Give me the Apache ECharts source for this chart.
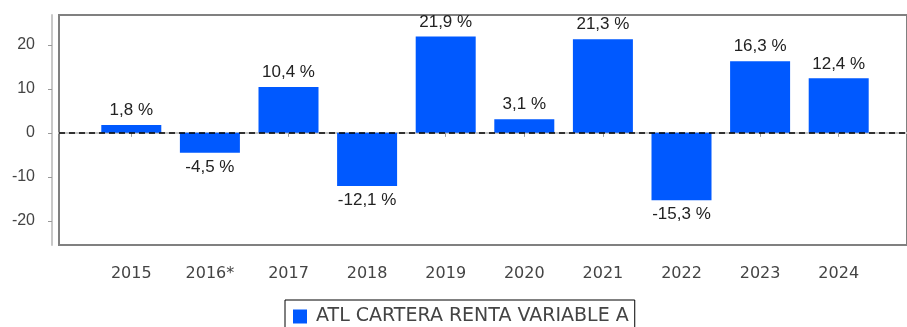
<!DOCTYPE html>
<html>
<head>
<meta charset="utf-8">
<script src="https://cdn.jsdelivr.net/npm/echarts@6/dist/echarts.min.js"></script>
<style>
  html, body { margin: 0; padding: 0; background: #fff; }
  #chart { width: 907px; height: 327px; }
</style>
</head>
<body>
<div id="chart"></div>
<script>
// Annual returns of the fund, per calendar year
const years = ['2015', '2016*', '2017', '2018', '2019', '2020', '2021', '2022', '2023', '2024'];
const returns = [1.8, -4.5, 10.4, -12.1, 21.9, 3.1, 21.3, -15.3, 16.3, 12.4];
const yTicks = [-20, -10, 0, 10, 20];
const seriesName = 'ATL CARTERA RENTA VARIABLE A';

const Y_MIN = -25.5, Y_MAX = 26.8;
const BLUE = '#0059ff';
const fmt = v => v.toFixed(1).replace('.', ',') + ' %';

const barData = returns.map(v => ({
  value: v,
  label: { position: v < 0 ? 'bottom' : 'top' }
}));

const chart = echarts.init(document.getElementById('chart'), null, { renderer: 'canvas' });
chart.setOption({
  animation: false,
  backgroundColor: '#fff',
  textStyle: { fontFamily: 'Liberation Sans' },
  legend: {
    data: [seriesName],
    left: 285,
    top: 300,
    padding: [7, 6, 7, 8],
    itemWidth: 14,
    itemHeight: 14,
    borderColor: '#000',
    borderWidth: 1,
    icon: 'rect',
    textStyle: { fontFamily: 'DejaVu Sans', fontSize: 19, color: '#444', padding: [0, 0, 0, 4] }
  },
  grid: [
    { left: 92, right: 29, top: 15, bottom: 82 },
    { left: 59, right: -3, top: 15, bottom: 82, show: true, borderColor: '#808080', borderWidth: 2, backgroundColor: 'transparent' }
  ],
  xAxis: [
    {
      type: 'category', gridIndex: 0, data: years, offset: 8,
      axisLine: { show: false },
      axisTick: { show: true, alignWithLabel: true, length: 4, lineStyle: { color: '#999' } },
      axisLabel: { margin: 13, color: '#444', fontSize: 16, fontFamily: 'DejaVu Sans' }
    },
    {
      type: 'value', gridIndex: 1, min: 0, max: 1, offset: 8,
      axisLine: { show: true, lineStyle: { color: '#c8c8c8', width: 2 } },
      axisTick: { show: false }, axisLabel: { show: false }, splitLine: { show: false }
    }
  ],
  yAxis: [
    {
      type: 'value', gridIndex: 0, min: Y_MIN, max: Y_MAX, offset: 40,
      axisLine: { show: true, lineStyle: { color: '#c8c8c8', width: 2 } },
      axisTick: { show: true, length: 4, customValues: yTicks, lineStyle: { color: '#999' } },
      axisLabel: { customValues: yTicks, margin: 17, color: '#444', fontSize: 16 },
      splitLine: { show: false }
    },
    {
      type: 'value', gridIndex: 1, min: Y_MIN, max: Y_MAX, show: false,
      splitLine: { show: false }
    }
  ],
  series: [
    {
      name: seriesName,
      type: 'bar',
      xAxisIndex: 0, yAxisIndex: 0,
      data: barData,
      barWidth: 60,
      itemStyle: { color: BLUE },
      label: {
        show: true,
        distance: 6,
        color: '#222',
        fontSize: 17,
        fontFamily: 'Liberation Sans',
        formatter: p => fmt(p.value)
      }
    },
    {
      // dashed zero reference across the full plot frame
      name: 'zero',
      type: 'line',
      xAxisIndex: 1, yAxisIndex: 1,
      data: [],
      z: 5,
      markLine: {
        silent: true,
        symbol: 'none',
        label: { show: false },
        lineStyle: { type: [6, 4], color: '#000', width: 1.5 },
        data: [{ yAxis: 0 }]
      }
    }
  ]
});
</script>
</body>
</html>
